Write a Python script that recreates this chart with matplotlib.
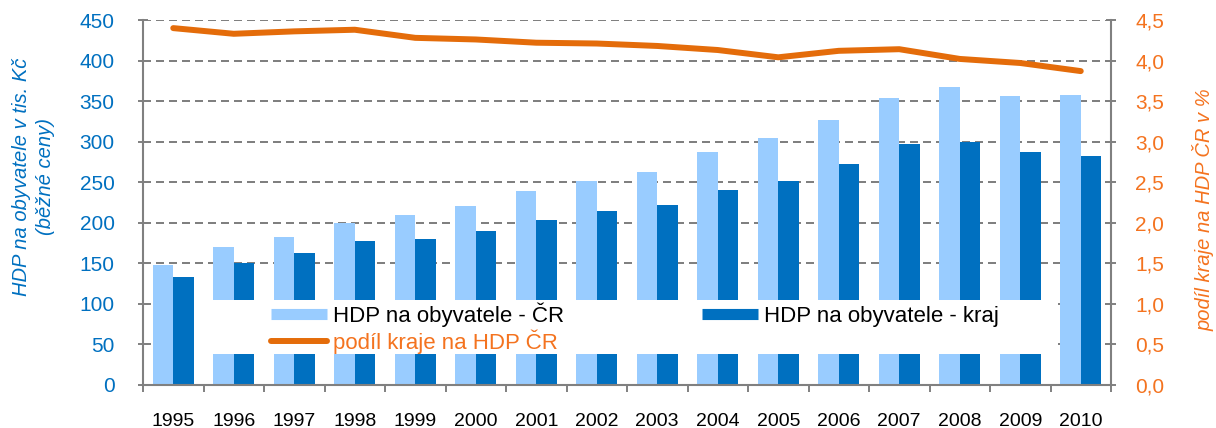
import numpy as np
import matplotlib
matplotlib.use('Agg')
import matplotlib.pyplot as plt
from matplotlib.lines import Line2D
from matplotlib.patches import Rectangle

plt.rcParams['font.family'] = ['Liberation Sans', 'DejaVu Sans']

# data
years = ['1995', '1996', '1997', '1998', '1999', '2000', '2001', '2002',
         '2003', '2004', '2005', '2006', '2007', '2008', '2009', '2010']
hdp_cr = [148, 170, 182, 200, 209, 221, 239, 251,
          263, 287, 305, 327, 354, 368, 356, 358]
hdp_kraj = [133, 151, 163, 178, 180, 190, 204, 214,
            222, 241, 251, 273, 297, 300, 287, 282]
podil = [4.40, 4.33, 4.36, 4.38, 4.28, 4.26, 4.22, 4.21,
         4.18, 4.13, 4.04, 4.12, 4.14, 4.02, 3.97, 3.87]

light = '#99CCFF'
dark = '#0070C0'
orange = '#E46C0A'
orange_txt = '#F4731F'
blue_txt = '#0070C0'
gray = '#808080'

fig = plt.figure(figsize=(12.16, 4.28), dpi=100)
ax = fig.add_axes([143 / 1216, 1 - 385 / 428, 968 / 1216, 365 / 428])
ax2 = ax.twinx()

x = np.arange(len(years))
w = 0.335
ax.bar(x - w / 2, hdp_cr, w, color=light, zorder=2)
ax.bar(x + w / 2, hdp_kraj, w, color=dark, zorder=2)

ax.set_xlim(-0.5, len(years) - 0.5)
ax.set_ylim(0, 450)
ax.set_yticks(range(0, 451, 50))
ax.yaxis.grid(True, ls=(0, (4, 2.5)), color=gray, lw=1.44)
ax.set_axisbelow(True)

ax.set_xticks(x)
ax.set_xticklabels(years)
ax.set_xticks(np.arange(-0.5, len(years), 1), minor=True)
ax.tick_params(axis='x', which='major', length=0, pad=20, labelsize=14, labelcolor='black')
ax.tick_params(axis='x', which='minor', length=5, width=1.4, color=gray, direction='out')
ax.tick_params(axis='y', length=7, width=1.4, color=gray, direction='inout',
               labelsize=15, labelcolor=blue_txt, pad=17)

for s in ['top', 'right']:
    ax.spines[s].set_visible(False)
for s in ['left', 'bottom']:
    ax.spines[s].set_color(gray)
    ax.spines[s].set_linewidth(1.5)

ax2.plot(x, podil, color=orange, lw=4.3, solid_capstyle='round', solid_joinstyle='round')
ax2.set_ylim(0, 4.5)
yt = np.arange(0, 4.51, 0.5)
ax2.set_yticks(yt)
ax2.set_yticklabels([f'{v:.1f}'.replace('.', ',') for v in yt])
ax2.tick_params(axis='y', length=7, width=1.4, color=gray, direction='inout',
                labelsize=15, labelcolor=orange_txt, pad=14)
for s in ['top', 'left', 'bottom']:
    ax2.spines[s].set_visible(False)
ax2.spines['right'].set_color(gray)
ax2.spines['right'].set_linewidth(1.5)

# white box behind the legend
ax.add_patch(Rectangle((0.0537, 0.085), 0.8913, 0.148, transform=ax.transAxes,
                       facecolor='white', edgecolor='none', zorder=3))

h_cr = Line2D([], [], color=light, lw=8, solid_capstyle='butt')
h_kraj = Line2D([], [], color=dark, lw=8, solid_capstyle='butt')
h_pod = Line2D([], [], color=orange, lw=4.3, solid_capstyle='round')

leg1 = ax.legend([h_cr, h_pod], ['HDP na obyvatele - ČR', 'podíl kraje na HDP ČR'],
                 loc='upper left', bbox_to_anchor=(0.1208, 0.257), frameon=False,
                 fontsize=16, borderpad=0, handlelength=2.5, handletextpad=0.3,
                 labelspacing=0.1)
leg1.get_texts()[1].set_color(orange_txt)
leg1.set_zorder(5)
ax.add_artist(leg1)
leg2 = ax.legend([h_kraj], ['HDP na obyvatele - kraj'],
                 loc='upper left', bbox_to_anchor=(0.5661, 0.248), frameon=False,
                 fontsize=16, borderpad=0, handlelength=2.5, handletextpad=0.3)
leg2.set_zorder(5)

fig.text(33.5 / 1216, 1 - 177 / 428, 'HDP na obyvatele v tis. Kč\n(běžné ceny)',
         rotation=90, ha='center', va='center', ma='center', style='italic',
         fontsize=14.5, color=blue_txt, linespacing=1.3)
fig.text(1203 / 1216, 1 - 210 / 428, 'podíl kraje na HDP ČR v %',
         rotation=90, ha='center', va='center', style='italic',
         fontsize=14.5, color=orange_txt)

fig.savefig('out.png', dpi=100)
